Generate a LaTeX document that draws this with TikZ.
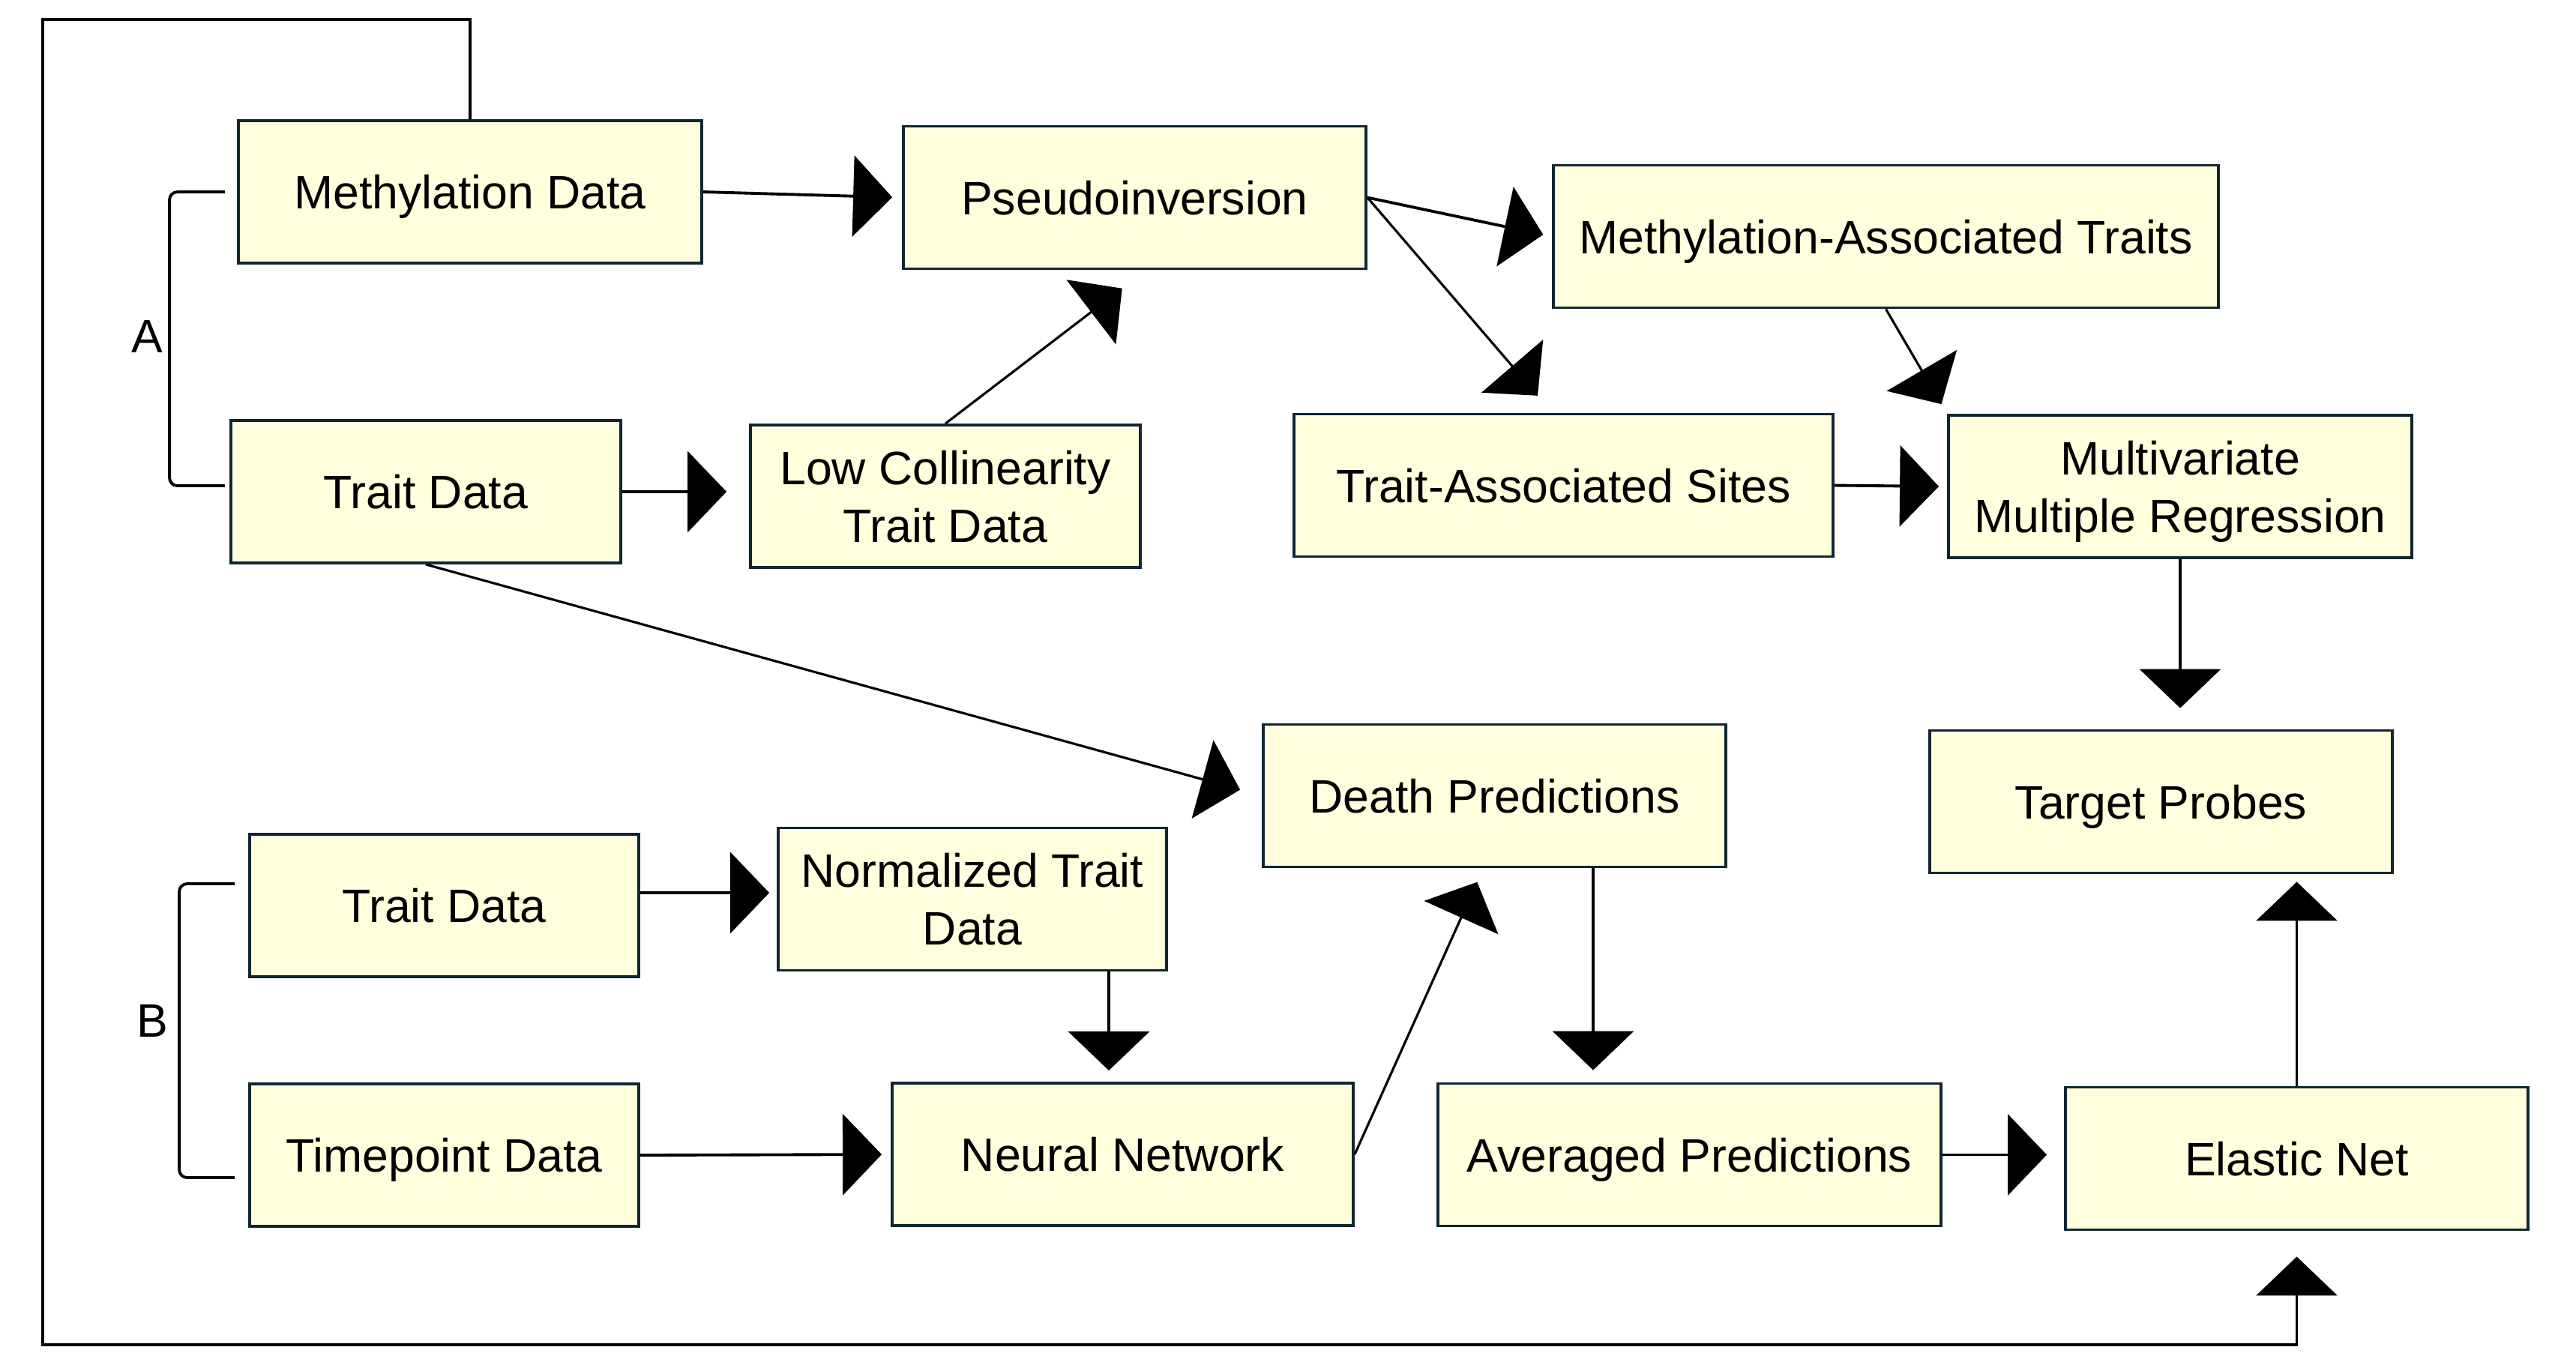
\documentclass[tikz,border=0pt]{standalone}
\usepackage{fontspec}
\setmainfont{Liberation Sans}
\usetikzlibrary{arrows.meta}
\definecolor{boxfill}{RGB}{255,255,221}
\definecolor{boxline}{RGB}{18,38,50}

\begin{document}
\begin{tikzpicture}[
	stage/.style={draw=boxline, line width=1.1pt, fill=boxfill, minimum height=1.9cm, align=center, text depth=0pt, font=\fontsize{17.8}{22}\selectfont},
	flow/.style={line width=1.1pt, -{Triangle[length=0.52cm,width=1.08cm]}},
	brace/.style={line width=1.1pt, rounded corners=3pt},
	tag/.style={font=\fontsize{17.8}{22}\selectfont}
	]
	
	\useasboundingbox (0,0) rectangle (34.36,-18.2);
	
	% Part A
	\node[stage, minimum width=6.18cm] (meth) at (6.27,-2.56) {Methylation Data};
	\node[stage, minimum width=5.20cm] (traitA) at (5.68,-6.56) {Trait Data};
	\node[stage, minimum width=6.17cm] (pseudo) at (15.135,-2.635) {Pseudoinversion};
	\node[stage, minimum width=5.20cm] (lowcol) at (12.61,-6.62) {Low Collinearity\\Trait Data};
	\node[stage, minimum width=8.87cm] (methtraits) at (25.155,-3.155) {Methylation-Associated Traits};
	\node[stage, minimum width=7.19cm] (sites) at (20.855,-6.475) {Trait-Associated Sites};
	\node[stage, minimum width=6.18cm] (mmr) at (29.08,-6.49) {Multivariate\\Multiple Regression};
	\node[stage, minimum width=6.17cm] (probes) at (28.825,-10.695) {Target Probes};
	
	% Part B
	\node[stage, minimum width=6.17cm] (death) at (19.935,-10.615) {Death Predictions};
	\node[stage, minimum width=5.19cm] (traitB) at (5.925,-12.08) {Trait Data};
	\node[stage, minimum width=5.18cm] (norm) at (12.97,-11.995) {Normalized Trait\\Data};
	\node[stage, minimum width=5.19cm] (time) at (5.925,-15.41) {Timepoint Data};
	\node[stage, minimum width=6.15cm] (nn) at (14.975,-15.40) {Neural Network};
	\node[stage, minimum width=6.71cm] (avg) at (22.535,-15.405) {Averaged Predictions};
	\node[stage, minimum width=6.17cm] (elastic) at (30.635,-15.455) {Elastic Net};
	
	% brackets
	\draw[brace] ([xshift=-0.16cm]meth.west) -- ++(-0.74,0) |- ([xshift=-0.06cm,yshift=0.08cm]traitA.west);
	\node[tag] (labA) at (1.96,-4.49) {A};
	\draw[brace] ([xshift=-0.18cm,yshift=0.29cm]traitB.west) -- ++(-0.74,0) |- ([xshift=-0.18cm,yshift=-0.3cm]time.west);
	\node[tag] (labB) at (2.03,-13.62) {B};
	
	% arrows, part A
	\draw[flow, shorten >=0.13cm] (meth.east) -- (pseudo.west);
	\draw[flow, shorten >=0.3cm] (traitA.east) -- (traitA.east -| lowcol.west);
	\draw[flow, line width=0.9pt, shorten >=0.4cm] (lowcol.north) -- ([xshift=0.15cm]pseudo.south);
	\draw[flow, shorten >=0.12cm] (pseudo.east) -- (methtraits.west);
	\draw[flow, line width=0.9pt, shorten >=0.3cm] (pseudo.east) -- ([xshift=-0.15cm]sites.north);
	\draw[flow, line width=0.9pt, shorten >=0.15cm] (methtraits.south) -- (mmr.north west);
	\draw[flow, shorten >=0.11cm] (sites.east) -- (mmr.west);
	\draw[flow, shorten >=0.28cm] (mmr.south) -- (mmr.south |- probes.north);
	\draw[flow, line width=0.9pt, shorten >=0.3cm] (traitA.south) -- (death.west);
	
	% arrows, part B
	\coordinate (traitBout) at ([yshift=0.17cm]traitB.east);
	\coordinate (normdrop) at ([xshift=1.82cm]norm.south);
	\coordinate (deathdrop) at ([xshift=1.315cm]death.south);
	\draw[flow, shorten >=0.1cm] (traitBout) -- (traitBout -| norm.west);
	\draw[flow, shorten >=0.15cm] (normdrop) -- (normdrop |- nn.north);
	\draw[flow, shorten >=0.12cm] (time.east) -- (nn.west);
	\draw[flow, line width=0.9pt, shorten >=0.2cm] (nn.east) -- ([xshift=-0.15cm]death.south);
	\draw[flow, shorten >=0.16cm] (deathdrop) -- (deathdrop |- avg.north);
	\draw[flow, shorten >=0.23cm] (avg.east) -- (avg.east -| elastic.west);
	\draw[flow, shorten >=0.1cm] (elastic.north) -- (elastic.north |- probes.south);
	
	% feedback loop
	\coordinate (loopTL) at (0.57,-0.26);
	\coordinate (loopBL) at (0.57,-17.94);
	\draw[flow, shorten >=0.34cm] (meth.north) |- (loopTL) -- (loopBL) -| (elastic.south);
	
\end{tikzpicture}
\end{document}
